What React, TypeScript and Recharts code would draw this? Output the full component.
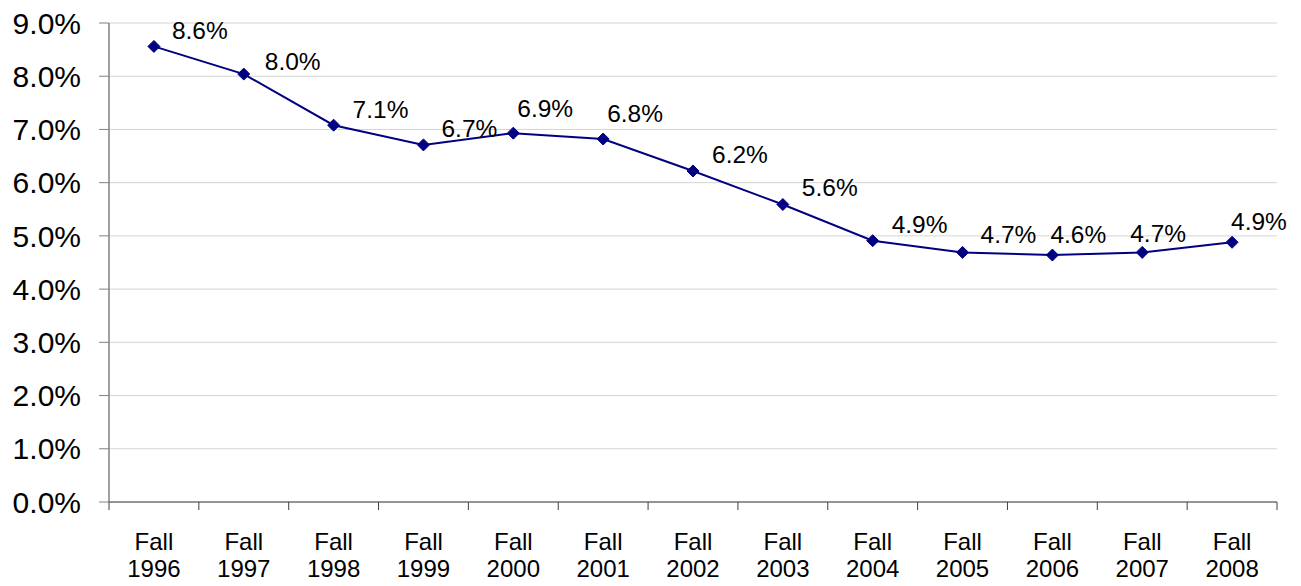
import { CartesianGrid, LabelList, Line, LineChart, XAxis, YAxis } from "recharts";

const terms = ["Fall 1996", "Fall 1997", "Fall 1998", "Fall 1999", "Fall 2000", "Fall 2001", "Fall 2002", "Fall 2003", "Fall 2004", "Fall 2005", "Fall 2006", "Fall 2007", "Fall 2008"];
const rates = [8.56, 8.04, 7.08, 6.71, 6.93, 6.82, 6.22, 5.59, 4.91, 4.69, 4.64, 4.69, 4.88];
const yTicks = [0, 1, 2, 3, 4, 5, 6, 7, 8, 9];

// label nudges, as the original spreadsheet placed them
const labelDx = [18, 21, 19, 18, 4, 4, 19, 19, 19, 18, -2, -12, -1];
const labelDy = [-7, -4, -7, -8, -16, -17, -8, -8, -8, -9, -12, -10, -12];

const chartData = terms.map((term, i) => ({ term, rate: rates[i] }));

const FONT = "'Liberation Sans', Arial, sans-serif";
const PLOT_W = 1168;
const BAND = PLOT_W / terms.length;

const Diamond = (props: any) => {
  const { cx, cy } = props;
  if (cx == null || cy == null) return null;
  const r = 6;
  return (
    <polygon
      points={`${cx},${cy - r} ${cx + r},${cy} ${cx},${cy + r} ${cx - r},${cy}`}
      fill="#000080"
      stroke="#000080"
    />
  );
};

const TermTick = (props: any) => {
  const { x, y, payload, index } = props;
  const [word, year] = String(payload.value).split(" ");
  const last = index === terms.length - 1;
  return (
    <g>
      <line x1={x - BAND / 2} y1={y} x2={x - BAND / 2} y2={y + 8} stroke="#404040" strokeWidth={1} />
      {last && <line x1={x + BAND / 2} y1={y} x2={x + BAND / 2} y2={y + 8} stroke="#404040" strokeWidth={1} />}
      <text x={x} y={y + 48} textAnchor="middle" fontSize={24} fontFamily={FONT} fill="#000">
        {word}
      </text>
      <text x={x} y={y + 75} textAnchor="middle" fontSize={24} fontFamily={FONT} fill="#000">
        {year}
      </text>
    </g>
  );
};

const RateLabel = (props: any) => {
  const { x, y, value, index } = props;
  return (
    <text
      x={x + labelDx[index]}
      y={y + labelDy[index]}
      textAnchor="start"
      fontSize={24.5}
      fontFamily={FONT}
      fill="#000"
    >
      {`${Number(value).toFixed(1)}%`}
    </text>
  );
};

export default function App() {
  return (
    <div style={{ position: "absolute", top: 0, left: 0 }}>
      <LineChart
        width={1301}
        height={586}
        data={chartData}
        margin={{ top: 23, right: 24, left: 0, bottom: 0 }}
      >
        <CartesianGrid vertical={false} stroke="#d4d4d4" strokeWidth={1} />
        <XAxis
          dataKey="term"
          height={84}
          interval={0}
          tickSize={0}
          tickMargin={0}
          tickLine={false}
          axisLine={{ stroke: "#404040", strokeWidth: 1 }}
          padding={{ left: BAND / 2, right: BAND / 2 }}
          tick={<TermTick />}
        />
        <YAxis
          width={109}
          domain={[0, 9]}
          ticks={yTicks}
          interval={0}
          tickSize={10}
          tickMargin={18}
          tickFormatter={(v: number) => `${v.toFixed(1)}%`}
          axisLine={{ stroke: "#808080", strokeWidth: 1.5 }}
          tickLine={{ stroke: "#808080", strokeWidth: 1 }}
          tick={{ fontSize: 30, fontFamily: FONT, fill: "#000" }}
        />
        <Line
          type="linear"
          dataKey="rate"
          stroke="#000080"
          strokeWidth={2}
          dot={<Diamond />}
          activeDot={false}
          isAnimationActive={false}
        >
          <LabelList dataKey="rate" content={<RateLabel />} />
        </Line>
      </LineChart>
    </div>
  );
}
